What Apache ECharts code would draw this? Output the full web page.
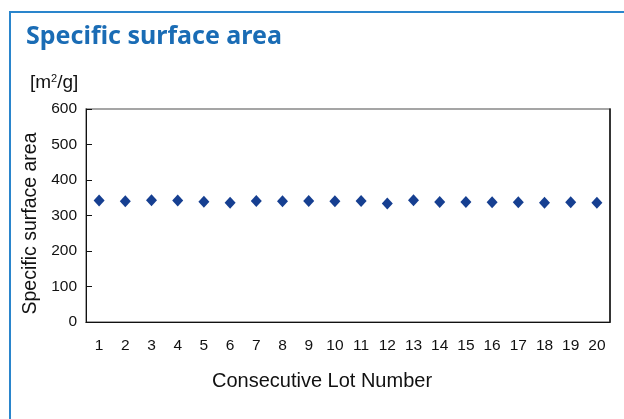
<!DOCTYPE html>
<html>
<head>
<meta charset="utf-8">
<style>
  html, body { margin: 0; padding: 0; background: #fff; }
  #frame { position: absolute; left: 9px; top: 11px; width: 615px; height: 408px;
           border-left: 2px solid #2a85cc; border-top: 2px solid #2a85cc; box-sizing: border-box; }
  #chart { position: absolute; left: 0; top: 0; width: 624px; height: 419px; }
</style>
<script src="https://cdn.jsdelivr.net/npm/echarts@6/dist/echarts.min.js"></script>
</head>
<body>
<div id="frame"></div>
<div id="chart"></div>
<script>
const lots = ['1','2','3','4','5','6','7','8','9','10','11','12','13','14','15','16','17','18','19','20']
const surfaceArea = [342, 340, 343, 342, 339, 336, 341, 340, 341, 340, 341, 334, 343, 338, 338, 337, 337, 336, 337, 336]

const font = 'Liberation Sans, Arial, sans-serif'
const chart = echarts.init(document.getElementById('chart'))
chart.setOption({
  animation: false,
  backgroundColor: 'transparent',
  title: {
    text: 'Specific surface area',
    left: 21, top: 19,
    textStyle: { fontFamily: 'Noto Sans, sans-serif', fontSize: 25, fontWeight: 'bold', color: '#1a6cb5' },
  },
  graphic: [{
    type: 'text', left: 30, top: 73,
    style: {
      text: '[m{s|2}/g]',
      font: '19px ' + font, fill: '#111',
      rich: { s: { fontSize: 11, verticalAlign: 'top', padding: [0, 0, 8, 0], fontFamily: font, fill: '#111' } },
    },
  }],
  grid: { left: 86, right: 14, top: 109, bottom: 97, show: true, borderColor: '#888', borderWidth: 1.5 },
  xAxis: {
    type: 'category',
    data: lots,
    name: 'Consecutive Lot Number',
    nameLocation: 'middle',
    nameGap: 49,
    nameTextStyle: { fontFamily: font, fontSize: 20, color: '#111', padding: [0, 52, 0, 0] },
    axisLine: { lineStyle: { color: '#111' } },
    axisTick: { inside: true, length: 6, lineStyle: { color: '#111' } },
    axisLabel: { fontFamily: font, fontSize: 15.5, color: '#111', margin: 16 },
  },
  yAxis: [{
    type: 'value',
    min: 0, max: 600, interval: 100,
    name: 'Specific surface area',
    nameLocation: 'middle',
    nameGap: 44,
    nameTextStyle: { fontFamily: font, fontSize: 19.5, color: '#111', padding: [0, 16, 0, 0] },
    axisLine: { show: true, lineStyle: { color: '#111' } },
    axisTick: { show: true, inside: true, length: 6, lineStyle: { color: '#111' } },
    axisLabel: { fontFamily: font, fontSize: 15.5, color: '#111', margin: 9 },
    splitLine: { show: false },
  }, {
    type: 'value',
    min: 0, max: 600, interval: 100,
    position: 'right',
    axisLine: { show: true, lineStyle: { color: '#111', width: 1.5 } },
    axisTick: { show: false },
    axisLabel: { show: false },
    splitLine: { show: false },
  }],
  series: [{
    type: 'scatter',
    data: surfaceArea,
    symbol: 'diamond',
    symbolSize: [11, 12],
    itemStyle: { color: '#163f91', opacity: 1 },
  }],
})
</script>
</body>
</html>
